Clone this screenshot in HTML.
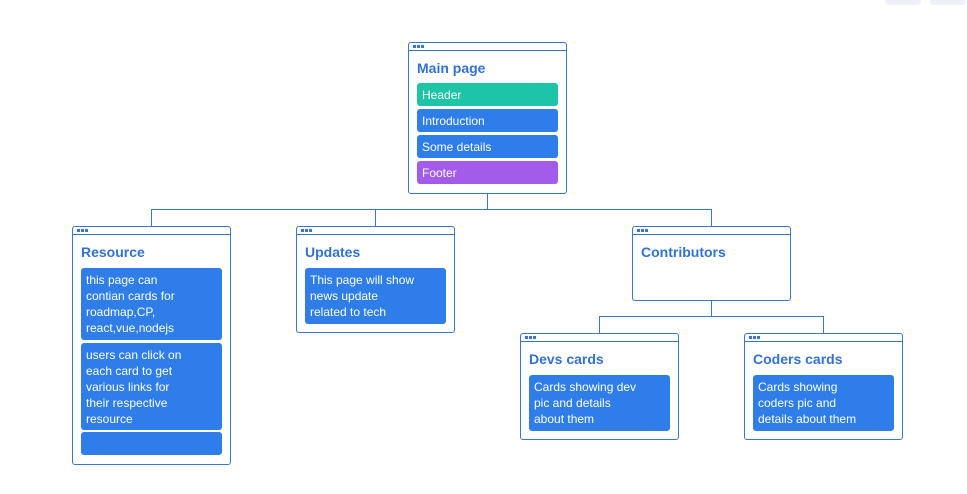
<!DOCTYPE html>
<html><head><style>
body{margin:0;width:967px;height:494px;background:#fff;position:relative;overflow:hidden;font-family:"Liberation Sans",sans-serif}
.n{position:absolute;border:1px solid #3a76c9;border-radius:3px;box-sizing:border-box;background:#fff}
.n .bar{height:7px;border-bottom:1px solid #3a76c9;position:relative}
.n .bar:before{content:"";position:absolute;left:4px;top:2px;width:3px;height:3px;background:#3a76c9;box-shadow:4px 0 #3a76c9,8px 0 #3a76c9}
.t{position:absolute;left:8px;top:17px;font-weight:bold;font-size:14px;color:#3172d4}
.i{position:absolute;left:8px;right:8px;border-radius:3px;background:#2e7de9;color:#fff;font-size:12px;line-height:16px;padding:4px 5px;box-sizing:border-box;white-space:nowrap}
.l{position:absolute;background:#3a76c9}
</style></head><body>
<div style="position:absolute;left:885px;top:-6px;width:36px;height:11px;border-radius:4px;background:#eef2f8"></div>
<div style="position:absolute;left:930px;top:-6px;width:36px;height:11px;border-radius:4px;background:#eef2f8"></div>

<div class="l" style="left:487px;top:193px;width:1px;height:16px"></div>
<div class="l" style="left:151px;top:209px;width:561px;height:1px"></div>
<div class="l" style="left:151px;top:209px;width:1px;height:17px"></div>
<div class="l" style="left:375px;top:209px;width:1px;height:17px"></div>
<div class="l" style="left:711px;top:209px;width:1px;height:17px"></div>
<div class="l" style="left:711px;top:300px;width:1px;height:16px"></div>
<div class="l" style="left:599px;top:316px;width:225px;height:1px"></div>
<div class="l" style="left:599px;top:316px;width:1px;height:17px"></div>
<div class="l" style="left:823px;top:316px;width:1px;height:17px"></div>

<div class="n" style="left:408px;top:42px;width:159px;height:152px"><div class="bar"></div><div class="t" style="top:17px">Main page</div>
<div class="i" style="top:40px;height:23px;background:#1ec4a6;line-height:16px">Header</div>
<div class="i" style="top:66px;height:23px;line-height:16px">Introduction</div>
<div class="i" style="top:92px;height:23px;line-height:16px">Some details</div>
<div class="i" style="top:118px;height:23px;background:#a35ce9;line-height:16px">Footer</div></div>

<div class="n" style="left:72px;top:226px;width:159px;height:239px"><div class="bar"></div><div class="t">Resource</div>
<div class="i" style="top:41px;height:72px">this page can<br>contian cards for<br>roadmap,CP,<br>react,vue,nodejs</div>
<div class="i" style="top:116px;height:87px">users can click on<br>each card to get<br>various links for<br>their respective<br>resource</div>
<div class="i" style="top:205px;height:23px"></div></div>

<div class="n" style="left:296px;top:226px;width:159px;height:107px"><div class="bar"></div><div class="t">Updates</div>
<div class="i" style="top:41px;height:56px">This page will show<br>news update<br>related to tech</div></div>

<div class="n" style="left:632px;top:226px;width:159px;height:75px"><div class="bar"></div><div class="t">Contributors</div></div>

<div class="n" style="left:520px;top:333px;width:159px;height:107px"><div class="bar"></div><div class="t">Devs cards</div>
<div class="i" style="top:41px;height:56px">Cards showing dev<br>pic and details<br>about them</div></div>

<div class="n" style="left:744px;top:333px;width:159px;height:107px"><div class="bar"></div><div class="t">Coders cards</div>
<div class="i" style="top:41px;height:56px">Cards showing<br>coders pic and<br>details about them</div></div>
</body></html>
